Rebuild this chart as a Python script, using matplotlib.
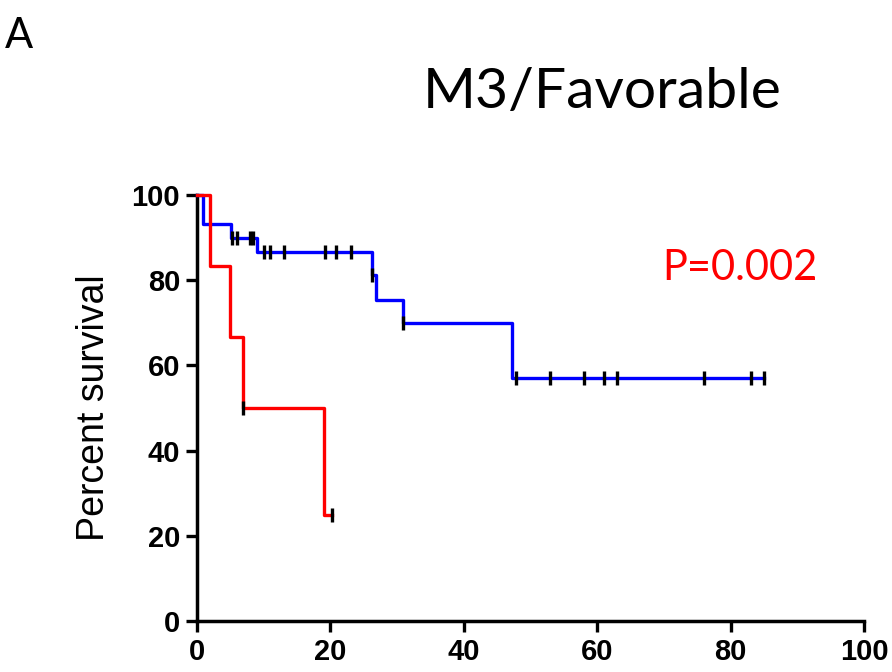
import matplotlib
matplotlib.use('Agg')
import matplotlib.pyplot as plt

# blue group (survival curve steps + censored times)
blue_t = [0, 1.0, 5.1, 9.0, 26.2, 26.9, 30.9, 47.2, 85.0]
blue_s = [100, 93.3, 90.0, 86.7, 81.2, 75.4, 70.0, 57.0, 57.0]
blue_cens_t = [5.3, 6.1, 8.0, 8.5, 10.1, 11.0, 13.1, 19.2, 20.9, 23.1, 26.2, 30.9,
               47.9, 53.0, 58.1, 61.0, 63.0, 76.0, 83.1, 85.0]
blue_cens_s = [90.0, 90.0, 90.0, 90.0, 86.7, 86.7, 86.7, 86.7, 86.7, 86.7, 81.2, 70.0,
               57.0, 57.0, 57.0, 57.0, 57.0, 57.0, 57.0, 57.0]

# red group
red_t = [0, 2.0, 5.0, 7.0, 19.1, 20.2]
red_s = [100, 83.3, 66.7, 50.0, 25.0, 25.0]
red_cens_t = [7.0, 20.2]
red_cens_s = [50.0, 25.0]

xticks = [0, 20, 40, 60, 80, 100]
yticks = [0, 20, 40, 60, 80, 100]

fig = plt.figure(figsize=(8.92, 6.72), dpi=100)
ax = fig.add_axes([0.2205, 0.0759, 0.7483, 0.6339])

ax.step(blue_t, blue_s, where='post', color='#0000ff', lw=2.4, clip_on=False, zorder=3)
ax.step(red_t, red_s, where='post', color='#ff0000', lw=2.4, clip_on=False, zorder=3)
ax.plot(blue_cens_t, blue_cens_s, '|', color='black', ms=10, mew=2.4, clip_on=False, zorder=4)
ax.plot(red_cens_t, red_cens_s, '|', color='black', ms=10, mew=2.4, clip_on=False, zorder=4)

ax.set_xlim(0, 100)
ax.set_ylim(0, 100)
ax.set_xticks(xticks)
ax.set_yticks(yticks)
for s in ['top', 'right']:
    ax.spines[s].set_visible(False)
for s in ['left', 'bottom']:
    ax.spines[s].set_linewidth(2.5)
ax.tick_params(width=2.4, length=8, direction='out', pad=4)
for lab in ax.get_xticklabels() + ax.get_yticklabels():
    lab.set_fontfamily('Liberation Sans')
    lab.set_fontweight('bold')
    lab.set_fontsize(21)

ax.set_ylabel('Percent survival', fontsize=27, family='Liberation Sans')
ax.yaxis.set_label_coords(-0.127, 0.5)

ax.text(69.7, 80, 'P=0.002', color='#ff0000', fontsize=30, family='Lato')

fig.text(602 / 892, 1 - 108 / 672, 'M3/Favorable', fontsize=41, family='Lato',
         ha='center', va='baseline')
fig.text(5 / 892, 1 - 48 / 672, 'A', fontsize=30, family='Lato', ha='left', va='baseline')

fig.savefig('out.png', dpi=100)
